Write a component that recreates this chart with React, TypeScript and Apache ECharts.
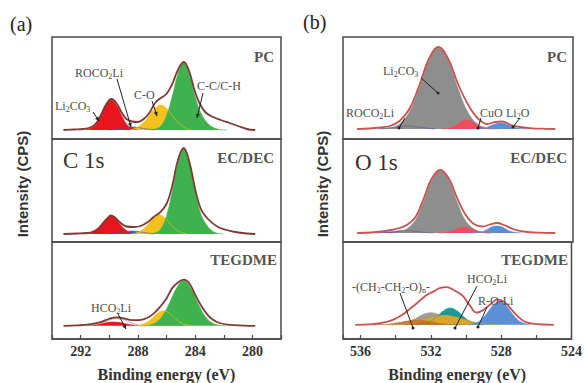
import React, { useEffect, useRef } from 'react';
import * as echarts from 'echarts';

type P = [number, number][];

// ---------- tick labels ----------
const cTicks = [292, 288, 284, 280];
const oTicks = [536, 532, 528, 524];

// ---------- (a) C 1s, PC ----------
const aPcBlue: P = [[290.0, 0], [289.2, 1.5], [288.4, 3], [287.6, 1.5], [286.8, 0]];
const aPcRed: P = [[291.65, 0], [291.25, 2], [290.9, 6], [290.55, 15], [290.2, 25], [289.85, 30], [289.5, 25], [289.15, 15], [288.8, 6], [288.45, 2], [288.05, 0]];
const aPcYellow: P = [[288.6, 0], [288.2, 1.6], [287.75, 5.5], [287.3, 12.5], [286.85, 21], [286.4, 25], [285.95, 21], [285.5, 12.5], [285.05, 5.5], [284.6, 1.6], [284.2, 0]];
const aPcGreen: P = [[287.2, 0], [286.8, 1], [286.4, 4], [286.0, 14], [285.6, 33.5], [285.2, 56], [284.8, 67], [284.4, 56], [284.0, 33.5], [283.6, 17], [283.2, 8], [282.8, 3], [282.3, 0.5], [281.8, 0]];
const aPcEnv: P = [[293.2, 0], [292.5, 0.5], [291.8, 1], [291.25, 3], [290.9, 7], [290.55, 16], [290.2, 26], [289.85, 31], [289.5, 27], [289.15, 18], [288.8, 11], [288.4, 8.5], [288.0, 8], [287.6, 11], [287.2, 17], [286.8, 27], [286.4, 32], [286.0, 36], [285.6, 46], [285.2, 60], [284.8, 68], [284.4, 58], [284.05, 40], [283.7, 27], [283.3, 18], [282.75, 13], [282.2, 10], [281.6, 7], [281.0, 4], [280.4, 1], [279.8, 0]];

// ---------- (a) C 1s, EC/DEC ----------
const aEcBlue: P = [[290.0, 0], [289.2, 1.5], [288.4, 3], [287.6, 1.5], [286.8, 0]];
const aEcRed: P = [[291.7, 0], [291.3, 1], [290.95, 4], [290.6, 9], [290.25, 15], [289.9, 18], [289.55, 15], [289.2, 9], [288.85, 4], [288.5, 1], [288.1, 0]];
const aEcYellow: P = [[288.5, 0], [288.1, 1.2], [287.7, 4], [287.3, 9.5], [286.9, 16], [286.5, 19], [286.1, 16], [285.7, 9.5], [285.3, 4], [284.9, 1.2], [284.5, 0]];
const aEcGreen: P = [[287.2, 0], [286.8, 1], [286.4, 5], [286.0, 18], [285.6, 42.5], [285.2, 71], [284.8, 85], [284.4, 71], [284.0, 42.5], [283.6, 20], [283.2, 9], [282.8, 3], [282.4, 0.5], [282.0, 0]];
const aEcEnv: P = [[293.2, 0], [292.2, 0.5], [291.6, 1], [291.2, 2], [290.8, 5], [290.4, 11], [290.1, 16], [289.9, 18.5], [289.6, 16.5], [289.2, 11], [288.8, 7.5], [288.3, 7], [287.8, 8], [287.3, 12], [286.9, 17], [286.5, 21], [286.0, 30], [285.6, 48], [285.2, 74], [284.8, 86], [284.4, 72], [284.0, 45], [283.6, 25], [283.1, 15], [282.4, 7], [281.8, 4], [281.2, 2], [280.4, 0.5], [279.8, 0]];

// ---------- (a) C 1s, TEGDME ----------
const aTgRed: P = [[291.5, 0], [291.05, 0.8], [290.6, 2], [290.15, 3.4], [289.7, 4], [289.25, 3.4], [288.8, 2], [288.35, 0.8], [287.9, 0]];
const aTgHco: P = [[291.6, 0], [290.8, 2], [290.2, 5], [289.6, 7.5], [289.1, 7], [288.6, 4], [288.0, 1], [287.4, 0]];
const aTgYellow: P = [[288.2, 0], [287.8, 1], [287.4, 3.4], [287.0, 8], [286.6, 13.5], [286.2, 16], [285.8, 13.5], [285.4, 8], [285.0, 3.4], [284.6, 1], [284.2, 0]];
const aTgGreen: P = [[287.8, 0], [287.3, 0.5], [286.8, 3], [286.3, 10], [285.8, 24], [285.3, 40], [284.8, 48], [284.3, 40], [283.8, 24], [283.3, 10], [282.8, 3], [282.3, 0.5], [281.8, 0]];
const aTgEnv: P = [[293.2, 0], [292.2, 0.5], [291.4, 1.5], [290.6, 4], [290.0, 7.5], [289.5, 9], [289.0, 8], [288.4, 6], [287.9, 6], [287.4, 8], [286.9, 13], [286.4, 21], [286.0, 29], [285.6, 40], [285.2, 46], [284.8, 49], [284.4, 45], [284.0, 33], [283.6, 22], [283.2, 13], [282.8, 7], [282.3, 3], [281.6, 1], [280.6, 0.3], [279.8, 0]];

// ---------- (b) O 1s, PC ----------
const bPcPurple: P = [[535.0, 0], [534.2, 1.5], [533.4, 3], [532.6, 1.5], [531.8, 0]];
const bPcGray: P = [[534.9, 0], [534.35, 1], [533.8, 5], [533.25, 17], [532.7, 40.5], [532.15, 68], [531.6, 81], [531.05, 68], [530.5, 40.5], [529.95, 17], [529.4, 5], [528.85, 1], [528.3, 0]];
const bPcPink: P = [[531.4, 0], [531.1, 0.5], [530.8, 2], [530.55, 4.5], [530.3, 7.5], [530.0, 9], [529.7, 7.5], [529.45, 4.5], [529.2, 2], [528.9, 0.5], [528.6, 0]];
const bPcBlue: P = [[529.5, 0], [529.2, 0.4], [528.9, 1.2], [528.7, 3], [528.4, 5], [528.1, 6], [527.8, 5], [527.5, 3], [527.2, 1.2], [526.9, 0.4], [526.6, 0]];
const bPcEnv: P = [[536.2, 0], [535.5, 0.5], [534.9, 1.5], [534.35, 3], [533.8, 8], [533.25, 20], [532.7, 43], [532.15, 70], [531.6, 82], [531.05, 70], [530.5, 45], [529.95, 25], [529.4, 11], [528.85, 5], [528.4, 7], [528.0, 7.5], [527.5, 4], [527.0, 2], [526.3, 0.7], [525.5, 0.2], [525.0, 0]];

// ---------- (b) O 1s, EC/DEC ----------
const bEcPurple: P = [[535.1, 0], [534.3, 1.2], [533.5, 2.5], [532.7, 1.2], [531.9, 0]];
const bEcGray: P = [[534.4, 0], [533.9, 0.8], [533.4, 4], [532.9, 13], [532.45, 31], [532.0, 52], [531.5, 62], [531.0, 52], [530.55, 31], [530.1, 13], [529.6, 4], [529.1, 0.8], [528.6, 0]];
const bEcPink: P = [[531.6, 0], [531.2, 0.5], [530.9, 1.5], [530.6, 3.5], [530.4, 5], [530.2, 6], [529.9, 5], [529.6, 3], [529.3, 1.3], [529.0, 0.4], [528.7, 0]];
const bEcBlue: P = [[529.7, 0], [529.4, 0.5], [529.1, 1.5], [528.85, 3.5], [528.6, 6], [528.3, 7], [528.0, 6], [527.75, 3.5], [527.5, 1.5], [527.2, 0.5], [526.9, 0]];
const bEcEnv: P = [[536.2, 0], [535.4, 0.5], [534.8, 1.5], [534.3, 3], [533.8, 5], [533.4, 8], [532.9, 16], [532.45, 34], [532.0, 54], [531.5, 63], [531.0, 54], [530.55, 35], [530.1, 19], [529.6, 9], [529.1, 6.5], [528.7, 8.5], [528.3, 10], [527.9, 8], [527.4, 4], [526.8, 1.5], [526.0, 0.3], [525.0, 0]];

// ---------- (b) O 1s, TEGDME ----------
const bTgGray: P = [[534.2, 0], [533.8, 0.8], [533.35, 2.7], [532.9, 6.5], [532.45, 11], [532.0, 13], [531.55, 11], [531.1, 6.5], [530.65, 2.7], [530.2, 0.8], [529.8, 0]];
const bTgTeal: P = [[532.8, 0], [532.4, 1.1], [532.0, 4], [531.65, 9], [531.28, 15], [530.9, 18], [530.52, 15], [530.15, 9], [529.8, 4], [529.4, 1.1], [529.0, 0]];
const bTgGold: P = [[534.3, 0], [533.7, 0.6], [533.1, 2], [532.45, 5], [531.8, 8.4], [531.2, 10], [530.6, 8.4], [529.95, 5], [529.3, 2], [528.7, 0.6], [528.1, 0]];
const bTgOrange: P = [[535.3, 0], [534.8, 0.3], [534.3, 1], [533.8, 2.5], [533.3, 4.2], [532.8, 5], [532.3, 4.2], [531.8, 2.5], [531.3, 1], [530.8, 0.3], [530.3, 0]];
const bTgBlue: P = [[529.85, 0], [529.5, 1.6], [529.15, 5.3], [528.8, 12.5], [528.45, 21], [528.1, 25], [527.75, 21], [527.4, 12.5], [527.05, 5.3], [526.7, 1.6], [526.35, 0]];
const bTgEnv: P = [[536.3, 0], [535.5, 0.5], [534.8, 2], [534.2, 5], [533.6, 11], [533.2, 17], [532.8, 23], [532.3, 31], [531.9, 35], [531.5, 39], [531.1, 40], [530.7, 37], [530.2, 31], [529.8, 21], [529.4, 13], [529.0, 16], [528.6, 22], [528.2, 27], [527.8, 24], [527.4, 16], [527.0, 8], [526.6, 3], [526.1, 1], [525.0, 0]];

// ---------- styling ----------
const SERIF = '"Liberation Serif", "Times New Roman", serif';
const SANS = '"Liberation Sans", Arial, sans-serif';
const TXT = '#4d4d4d';
const BORDER = '#4a4a4a';

const GREEN = '#3fb24f';
const RED = '#e8141e';
const YELLOW = '#f4c21c';
const BLUE_A = '#2c66b0';
const ENV_A = '#7d3b35';
const GRAY = '#8e8e8e';
const PINK = '#ef4d5d';
const BLUE_B = '#5b8fd6';
const PURPLE = '#6a4c9c';
const ENV_B = '#c9534e';
const TEAL = '#1b9a98';
const GOLD = '#d9a626';
const ORANGE = '#cf6a25';
const KHAKI = '#a39c90';

const A_LEFT = 52, A_W = 229, B_LEFT = 343, B_W = 230;
const TOPS = [37, 139, 242];
const HEIGHTS = [102, 103, 103];
const OFFS_A = [9, 8, 14];
const OFFS_B = [10, 9, 15];

function area(data: P, color: string, gi: number, z = 2, fill = true) {
  return {
    type: 'line', xAxisIndex: gi, yAxisIndex: gi, data, smooth: 0.4, symbol: 'none', showSymbol: false,
    silent: true, z,
    lineStyle: { color, width: fill ? 0.6 : 1 },
    areaStyle: fill ? { color, opacity: 1 } : undefined,
  };
}
function env(data: P, color: string, gi: number) {
  return {
    type: 'line', xAxisIndex: gi, yAxisIndex: gi, data, smooth: 0.4, symbol: 'none', showSymbol: false,
    silent: true, z: 5, lineStyle: { color, width: 1.8 },
  };
}

function label(text: string, x: number, y: number, o: any = {}) {
  const size = o.size ?? 12;
  const weight = o.weight ?? 'normal';
  const align = o.align ?? 'left';
  const fam = o.family ?? SERIF;
  const col = o.color ?? TXT;
  return {
    type: 'text', x, y, z: 100, silent: true, rotation: o.rotation ?? 0,
    style: {
      text, font: `${weight} ${size}px ${fam}`, fill: col,
      align, textAlign: align, verticalAlign: 'middle', textVerticalAlign: 'middle',
      lineHeight: size + 3,
      rich: {
        s: { font: `${weight} ${Math.round(size * 0.65)}px ${fam}`, fill: col, verticalAlign: 'bottom', lineHeight: Math.round(size * 0.7) },
      },
    },
  };
}
function arrow(x1: number, y1: number, x2: number, y2: number) {
  const dx = x2 - x1, dy = y2 - y1, L = Math.hypot(dx, dy), ux = dx / L, uy = dy / L;
  const hl = 4, hw = 2;
  const bx = x2 - ux * hl, by = y2 - uy * hl;
  return [
    { type: 'line', z: 100, silent: true, shape: { x1, y1, x2, y2 }, style: { stroke: '#222', lineWidth: 1 } },
    { type: 'polygon', z: 100, silent: true, shape: { points: [[x2, y2], [bx - uy * hw, by + ux * hw], [bx + uy * hw, by - ux * hw]] }, style: { fill: '#222' } },
  ];
}
function dotLine(x1: number, y1: number, x2: number, y2: number) {
  return [
    { type: 'line', z: 100, silent: true, shape: { x1, y1, x2, y2 }, style: { stroke: '#222', lineWidth: 1 } },
    { type: 'circle', z: 100, silent: true, shape: { cx: x2, cy: y2, r: 1.5 }, style: { fill: '#222' } },
  ];
}

function buildOption() {
  const grids: any[] = [];
  const xAxes: any[] = [];
  const yAxes: any[] = [];
  for (let i = 0; i < 6; i++) {
    const col = i < 3 ? 0 : 1;
    const r = i % 3;
    grids.push({
      left: col === 0 ? A_LEFT : B_LEFT, width: col === 0 ? A_W : B_W, top: TOPS[r], height: HEIGHTS[r],
      show: true, borderColor: BORDER, borderWidth: 1.5, backgroundColor: 'transparent',
    });
    const bottom = r === 2;
    const ticks = col === 0 ? cTicks : oTicks;
    xAxes.push({
      type: 'value', gridIndex: i, inverse: true, interval: 2,
      min: col === 0 ? 278 : 524, max: col === 0 ? 294 : 537,
      show: bottom,
      axisLine: { show: true, onZero: false, lineStyle: { color: BORDER, width: 1.5 } },
      axisTick: { show: true, inside: true, length: 4, lineStyle: { color: BORDER, width: 1.2 } },
      axisLabel: {
        show: true, margin: 5, color: '#333', fontSize: 14, fontWeight: 'bold', fontFamily: SERIF,
        formatter: (v: number) => (ticks.includes(v) ? String(v) : ''),
      },
      splitLine: { show: false },
      name: bottom ? 'Binding energy (eV)' : '',
      nameLocation: 'middle', nameGap: 27,
      nameTextStyle: { color: '#333', fontSize: 16, fontWeight: 'bold', fontFamily: SERIF },
    });
    const off = col === 0 ? OFFS_A[r] : OFFS_B[r];
    yAxes.push({ type: 'value', gridIndex: i, min: -off, max: HEIGHTS[r] - off, show: false, splitLine: { show: false } });
  }

  const series = [
    area(aPcBlue, BLUE_A, 0), area(aPcRed, RED, 0), area(aPcYellow, YELLOW, 0), area(aPcGreen, GREEN, 0), env(aPcEnv, ENV_A, 0),
    area(aEcBlue, BLUE_A, 1), area(aEcRed, RED, 1), area(aEcYellow, YELLOW, 1), area(aEcGreen, GREEN, 1), env(aEcEnv, ENV_A, 1),
    area(aTgRed, RED, 2), area(aTgHco, '#c9a3a0', 2, 3, false), area(aTgYellow, YELLOW, 2), area(aTgGreen, GREEN, 2), env(aTgEnv, ENV_A, 2),
    area(bPcPurple, PURPLE, 3), area(bPcGray, GRAY, 3), area(bPcPink, PINK, 3), area(bPcBlue, BLUE_B, 3), env(bPcEnv, ENV_B, 3),
    area(bEcPurple, PURPLE, 4), area(bEcGray, GRAY, 4), area(bEcPink, PINK, 4), area(bEcBlue, BLUE_B, 4), env(bEcEnv, ENV_B, 4),
    area(bTgGray, KHAKI, 5), area(bTgTeal, TEAL, 5), area(bTgGold, GOLD, 5), area(bTgOrange, ORANGE, 5), area(bTgBlue, BLUE_B, 5), env(bTgEnv, ENV_B, 5),
  ];

  const tag = { size: 15, weight: 'bold', align: 'right', color: '#555' };
  const graphic: any[] = [
    label('(a)', 10, 24, { size: 20, color: '#222' }),
    label('(b)', 303, 22, { size: 20, color: '#222' }),
    label('Intensity (CPS)', 22, 184, { size: 15, weight: 'bold', family: SANS, align: 'center', rotation: Math.PI / 2, color: '#333' }),
    label('Intensity (CPS)', 322, 184, { size: 15, weight: 'bold', family: SANS, align: 'center', rotation: Math.PI / 2, color: '#333' }),
    // (a)
    label('PC', 274, 57, tag),
    label('EC/DEC', 274, 158, tag),
    label('TEGDME', 277, 260, tag),
    label('C 1s', 63, 160, { size: 23, color: '#333' }),
    label('ROCO{s|2}Li', 75, 73),
    label('Li{s|2}CO{s|3}', 55, 106),
    label('C-O', 134, 95),
    label('C-C/C-H', 197, 86),
    label('HCO{s|2}Li', 91, 308),
    ...arrow(93, 112, 99, 121),
    ...arrow(117, 79, 131, 127),
    ...arrow(152, 101, 157, 116),
    ...arrow(203, 93, 197, 118),
    ...arrow(118, 314, 126, 329),
    // (b)
    label('PC', 567, 57, tag),
    label('EC/DEC', 567, 158, tag),
    label('TEGDME', 568, 260, tag),
    label('O 1s', 355, 162, { size: 23, color: '#333' }),
    label('Li{s|2}CO{s|3}', 383, 71),
    label('ROCO{s|2}Li', 346, 113),
    label('CuO', 480, 113),
    label('Li{s|2}O', 506, 113),
    label('-(CH{s|2}-CH{s|2}-O){s|n}-', 352, 287),
    label('HCO{s|2}Li', 467, 279),
    label('R-O-Li', 478, 301),
    ...dotLine(421, 78, 438, 93),
    ...dotLine(405, 118, 399, 128),
    ...dotLine(481, 118, 478, 128),
    ...dotLine(520, 118, 513, 127),
    ...dotLine(400, 293, 413, 328),
    ...dotLine(477, 286, 455, 328),
    ...dotLine(487, 307, 478, 327),
  ];

  return { animation: false, backgroundColor: '#ffffff', grid: grids, xAxis: xAxes, yAxis: yAxes, series, graphic };
}

export default function App() {
  const ref = useRef<HTMLDivElement>(null);
  useEffect(() => {
    document.body.style.margin = '0';
    const chart = echarts.init(ref.current!, null, { renderer: 'svg' });
    chart.setOption(buildOption() as any);
    return () => chart.dispose();
  }, []);
  return <div ref={ref} style={{ position: 'absolute', left: 0, top: 0, width: 585, height: 383 }} />;
}
